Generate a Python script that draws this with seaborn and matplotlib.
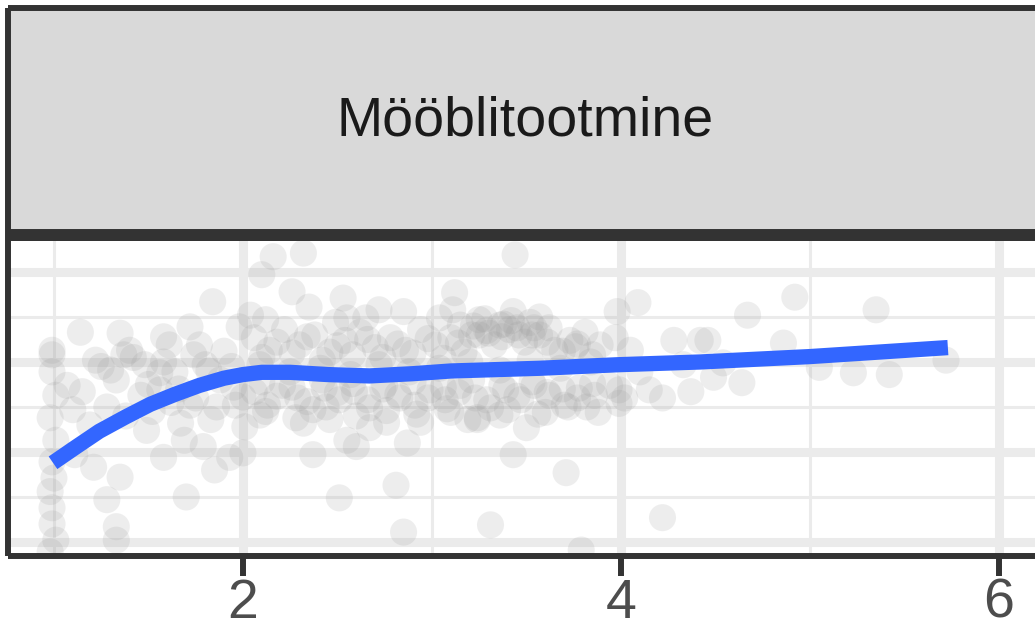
import numpy as np
import pandas as pd
import seaborn as sns
import matplotlib
matplotlib.use('Agg')
import matplotlib.pyplot as plt

# Facet title and axis ticks
panel_title = 'Mööblitootmine'
x_major = [2, 4, 6]
x_minor = [1, 3, 5]
y_major = [9, 10, 11, 12]
y_minor = [9.5, 10.5, 11.5]

# Scatter points (y axis is unlabeled in the crop)
pts_x = [0.99, 0.99, 1.01, 0.98, 1.01, 0.99, 1.00, 0.98, 0.99, 0.99, 1.01, 0.98, 0.99,
         1.07, 1.10, 1.11, 1.14, 1.15, 1.19, 1.21, 1.22, 1.28, 1.30, 1.33, 1.33, 1.35,
         1.35, 1.37, 1.40, 1.46, 1.48, 1.49, 1.56, 1.56, 1.58, 1.58, 1.61, 1.64, 1.67,
         1.69, 1.70, 1.72, 1.72, 1.77, 1.79, 1.80, 1.83, 1.84, 1.85, 1.88, 1.93, 1.96,
         1.98, 2.00, 2.00, 2.01,
         2.10, 2.16, 2.32, 2.26, 2.35, 2.53, 2.55, 2.72, 2.85, 3.12, 3.11, 2.32, 2.37,
         2.55, 2.60, 2.87, 2.81, 2.51, 2.85, 2.76, 2.94, 3.19,
         3.44, 3.43, 3.57, 3.98, 4.09, 3.76, 4.42, 4.28, 3.24, 3.50, 3.43, 3.71, 3.31,
         4.22, 3.79, 3.82, 3.99, 4.22, 3.99,
         4.67, 4.92, 5.35, 4.46, 4.86, 4.49, 4.64, 5.05, 5.23, 5.42, 5.72, 4.54,
         2.06, 2.14, 2.22, 2.30, 2.38, 2.46, 2.54, 2.62, 2.70, 2.78, 2.86, 2.94, 3.02,
         3.10, 3.17, 3.25, 3.33, 3.41, 3.49, 3.57, 3.65, 3.73, 3.81, 3.89, 3.97, 4.05,
         2.06, 2.13, 2.21, 2.29, 2.37, 2.43, 2.51, 2.59, 2.67, 2.75, 2.83, 2.91, 2.99,
         3.07, 3.15, 3.23, 3.31, 3.39, 3.47, 3.54, 3.62, 3.70, 3.78, 3.86, 3.94, 4.02,
         2.09, 2.25, 2.41, 2.57, 2.72, 2.88, 3.04, 3.20, 3.36, 3.52, 3.68, 3.84,
         3.25, 3.36, 3.52, 3.62, 3.15, 2.04, 2.12, 2.49, 2.65, 3.04,
         2.09, 2.46, 2.67, 3.10, 3.36, 3.60,
         4.15, 4.37, 4.10, 4.33,
         # second layer of the dense band
         2.10, 2.18, 2.26, 2.34, 2.42, 2.50, 2.58, 2.66, 2.74, 2.82, 2.90, 2.98, 3.06,
         3.14, 3.21, 3.29, 3.37, 3.45, 3.53, 3.61, 3.69, 3.77, 3.85,
         2.10, 2.18, 2.26, 2.34, 2.42, 2.50, 2.58, 2.66, 2.74, 2.82, 2.90, 2.98, 3.06,
         3.14, 3.21, 3.29, 3.37, 3.45, 3.53, 3.61, 3.69, 3.77, 3.85,
         2.12, 2.28, 2.44, 2.60, 2.76, 2.92, 3.08, 3.24, 3.40, 3.56, 3.72, 3.88,
         3.22, 3.30, 3.38, 3.46, 3.54, 3.28, 3.42,
         1.25, 1.33, 1.42, 1.50, 1.58, 1.66, 1.74, 1.82, 1.90, 1.95,
         1.28, 1.38, 1.52, 1.62, 1.75, 1.86, 1.94]
pts_y = [11.08, 10.89, 10.63, 10.38, 10.13, 9.89, 9.71, 9.56, 9.38, 9.20, 9.02, 8.89, 11.13,
         10.74, 10.47, 9.97, 11.33, 10.67, 10.30, 9.83, 11.02, 9.47, 10.91, 9.17, 9.02, 11.32,
         9.72, 11.08, 11.13, 10.63, 10.97, 10.24, 10.88, 10.69, 11.28, 9.94, 11.19, 10.89, 10.32,
         10.13, 9.50, 11.39, 10.52, 11.19, 10.06, 10.97, 10.36, 11.67, 9.80, 10.80, 9.94, 10.52,
         11.39, 10.61, 9.99, 10.28,
         11.97, 12.17, 12.21, 11.78, 11.61, 11.71, 11.49, 11.58, 11.56, 11.77, 11.58, 10.32, 9.97,
         10.13, 10.06, 10.10, 9.63, 9.49, 9.11, 10.33, 10.33, 10.36,
         12.19, 11.56, 11.50, 11.56, 11.66, 11.17, 11.24, 11.24, 10.36, 10.27, 9.97, 9.77, 9.19,
         9.27, 8.91, 10.50, 10.54, 10.60, 10.69,
         11.52, 11.72, 11.58, 11.24, 11.21, 10.83, 10.77, 10.94, 10.88, 10.86, 11.02, 10.99,
         11.27, 11.13, 11.36, 11.19, 11.30, 11.11, 11.24, 11.33, 11.16, 11.27, 11.13, 11.36, 11.19,
         11.27, 11.11, 11.30, 11.19, 11.36, 11.22, 11.30, 11.13, 11.24, 11.33, 11.19, 11.27, 11.13,
         10.67, 10.52, 10.74, 10.60, 10.47, 10.71, 10.58, 10.67, 10.49, 10.74, 10.60, 10.52, 10.69,
         10.58, 10.74, 10.60, 10.49, 10.69, 10.58, 10.74, 10.63, 10.52, 10.71, 10.63, 10.74, 10.60,
         10.97, 10.89, 10.93, 10.86, 10.97, 10.89, 10.93, 11.00, 10.91, 11.02, 10.93, 11.00,
         11.47, 11.41, 11.44, 11.38, 11.41, 11.52, 11.47, 11.44, 11.49, 11.49,
         10.41, 10.36, 10.27, 10.44, 10.41, 10.44,
         10.69, 10.67, 10.89, 10.97,
         11.05, 11.22, 11.10, 11.28, 11.02, 11.18, 11.08, 11.25, 11.05, 11.20, 11.10, 11.26, 11.04,
         11.21, 11.30, 11.35, 11.28, 11.38, 11.30, 11.22, 11.12, 11.20, 11.08,
         10.78, 10.62, 10.72, 10.56, 10.80, 10.66, 10.76, 10.58, 10.70, 10.64, 10.78, 10.60, 10.72,
         10.66, 10.80, 10.58, 10.74, 10.62, 10.78, 10.66, 10.70, 10.60, 10.76,
         10.45, 10.38, 10.50, 10.40, 10.46, 10.42, 10.48, 10.38, 10.47, 10.42, 10.50, 10.44,
         11.40, 11.32, 11.42, 11.30, 11.38, 11.48, 11.46,
         10.95, 10.80, 11.05, 10.75, 11.00, 10.70, 11.08, 10.90, 11.12, 10.72,
         10.50, 10.40, 10.45, 10.55, 10.60, 10.50, 10.95]

# Smoothed (loess) curve
smooth_x = [0.995, 1.12, 1.24, 1.38, 1.51, 1.64, 1.77, 1.90, 2.00, 2.10, 2.25, 2.45,
            2.67, 2.90, 3.10, 3.57, 3.99, 4.42, 5.00, 5.73]
smooth_y = [9.88, 10.06, 10.23, 10.39, 10.53, 10.64, 10.74, 10.82, 10.86, 10.885, 10.885,
            10.86, 10.845, 10.87, 10.90, 10.93, 10.97, 11.00, 11.06, 11.16]

df = pd.DataFrame({'x': pts_x, 'y': pts_y})
fit = pd.DataFrame({'x': smooth_x, 'y': smooth_y})

sns.set_theme(style='white')
plt.rcParams['font.family'] = ['Liberation Sans', 'DejaVu Sans']

W, H = 1035, 631
fig = plt.figure(figsize=(W / 100, H / 100), dpi=100, facecolor='white')
# panel runs a bit past the right edge (the reference is a crop)
ax = fig.add_axes([8 / W, 75 / H, 1034 / W, 321 / H])
strip = fig.add_axes([8 / W, 396 / H, 1034 / W, 227 / H])

border = '#333333'

# panel
ax.set_facecolor('white')
ax.set_axisbelow(True)
ax.set_xticks(x_major)
ax.set_xticks(x_minor, minor=True)
ax.set_yticks(y_major)
ax.set_yticks(y_minor, minor=True)
ax.grid(which='major', color='#EBEBEB', linewidth=6.5)
ax.grid(which='minor', color='#EBEBEB', linewidth=2.2)

sns.scatterplot(data=df, x='x', y='y', ax=ax, s=380, color='#999999',
                alpha=0.17, edgecolor='none', linewidth=0, legend=False)
sns.lineplot(data=fit, x='x', y='y', ax=ax, color='#3366FF', linewidth=11,
             solid_capstyle='butt', solid_joinstyle='round', legend=False)

ax.set_xlim(0.757, 6.228)
ax.set_ylim(8.844, 12.411)
ax.set_xlabel('')
ax.set_ylabel('')
ax.tick_params(axis='x', which='major', length=14.5, width=4.3, color=border,
               labelsize=40, labelcolor='#4D4D4D', pad=1, bottom=True)
ax.tick_params(axis='x', which='minor', length=0)
ax.tick_params(axis='y', which='both', length=0, left=False, labelleft=False)
for side, sp in ax.spines.items():
    sp.set_color(border)
    sp.set_linewidth(4.3)
    sp.set_capstyle('butt')
ax.spines['top'].set_linewidth(8.6)

# facet strip
strip.set_facecolor('#D9D9D9')
strip.set_xticks([])
strip.set_yticks([])
for side, sp in strip.spines.items():
    sp.set_color(border)
    sp.set_linewidth(4.3)
    sp.set_capstyle('butt')
strip.spines['bottom'].set_linewidth(8.6)
strip.text(0.5, 0.5, panel_title, transform=strip.transAxes, ha='center',
           va='center', fontsize=40, color='#1A1A1A')

fig.savefig('out.png', dpi=100, facecolor='white')
